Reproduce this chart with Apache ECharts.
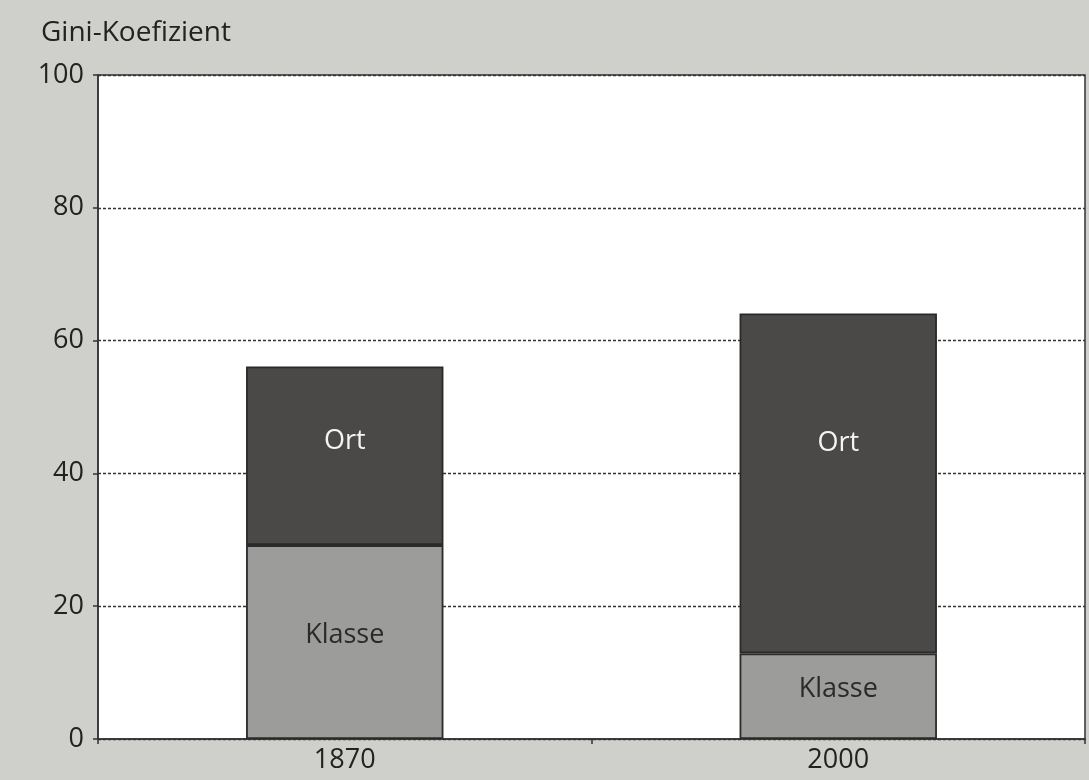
<!DOCTYPE html>
<html>
<head>
<meta charset="utf-8">
<script src="https://cdn.jsdelivr.net/npm/echarts@6/dist/echarts.min.js"></script>
<style>
  html, body { margin: 0; padding: 0; background: #cfcfcb; }
  #chart { width: 1089px; height: 780px; }
</style>
</head>
<body>
<div id="chart"></div>
<script>
  // Werte
  var years = ['1870', '2000']
  var klasse = [29.2, 12.9]
  var ort = [26.9, 51.2]
  var yTicks = [0, 20, 40, 60, 80, 100]

  // Labelversatz, damit die Beschriftung wie im Original sitzt
  var ortOffsets = [-14, -40]
  var klasseOffsets = [-7, -7]

  var font = '"Open Sans", "Noto Sans", sans-serif'
  var chart = echarts.init(document.getElementById('chart'))

  var option = {
    backgroundColor: '#cfcfcb',
    animation: false,
    title: {
      text: 'Gini-Koefizient',
      left: 36,
      top: 14,
      textStyle: { fontFamily: font, fontSize: 28, fontWeight: 'normal', color: '#222' }
    },
    grid: {
      left: 98, right: 4, top: 75, bottom: 41,
      show: true,
      backgroundColor: '#ffffff',
      borderColor: '#333',
      borderWidth: 1.5
    },
    xAxis: {
      type: 'category',
      data: years,
      axisLine: { lineStyle: { color: '#333', width: 1.5 } },
      axisTick: { show: true, length: 5, lineStyle: { color: '#333', width: 1.5 } },
      axisLabel: { fontFamily: font, fontSize: 27, color: '#222', margin: 8 }
    },
    yAxis: {
      type: 'value',
      min: yTicks[0],
      max: yTicks[yTicks.length - 1],
      interval: yTicks[1] - yTicks[0],
      axisLine: { show: true, lineStyle: { color: '#333', width: 1.5 } },
      axisTick: { show: true, length: 5, lineStyle: { color: '#333', width: 1.5 } },
      axisLabel: { fontFamily: font, fontSize: 27, color: '#222', margin: 14 },
      splitLine: { lineStyle: { color: '#333', type: [3, 2], width: 1.3 } }
    },
    series: [
      {
        name: 'Klasse',
        type: 'bar',
        stack: 'gini',
        barWidth: '40%',
        data: klasse.map(function (v, i) {
          return { value: v, label: { offset: [0, klasseOffsets[i]] } }
        }),
        itemStyle: { color: '#9c9c9a', borderColor: '#2a2a2a', borderWidth: 1.8 },
        label: {
          show: true, position: 'inside', formatter: 'Klasse',
          fontFamily: font, fontSize: 27, color: '#2a2a2a'
        }
      },
      {
        name: 'Ort',
        type: 'bar',
        stack: 'gini',
        barWidth: '40%',
        data: ort.map(function (v, i) {
          return { value: v, label: { offset: [0, ortOffsets[i]] } }
        }),
        itemStyle: { color: '#4b4947', borderColor: '#2a2a2a', borderWidth: 1.8 },
        label: {
          show: true, position: 'inside', formatter: 'Ort',
          fontFamily: font, fontSize: 27, color: '#f4f4f4'
        }
      }
    ]
  }
  chart.setOption(option)
</script>
</body>
</html>
